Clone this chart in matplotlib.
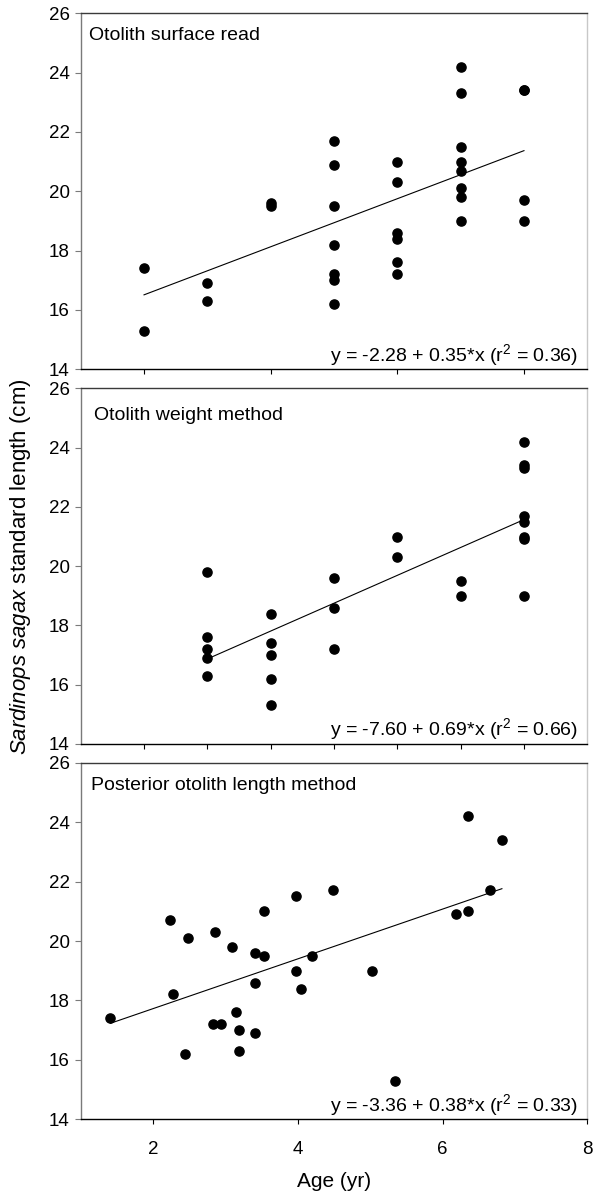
import matplotlib
matplotlib.use('Agg')
import matplotlib.pyplot as plt

plt.rcParams['font.family'] = ['Liberation Sans', 'DejaVu Sans']
plt.rcParams['mathtext.fontset'] = 'custom'
plt.rcParams['mathtext.rm'] = 'Liberation Sans'
plt.rcParams['mathtext.it'] = 'Liberation Sans:italic'
plt.rcParams['mathtext.bf'] = 'Liberation Sans:bold'

# ---------------- data ----------------
# Panel 1: otolith surface read
surf_age = [1, 1, 2, 2, 3, 3,
            4, 4, 4, 4, 4, 4, 4,
            5, 5, 5, 5, 5, 5,
            6, 6, 6, 6, 6, 6, 6, 6,
            7, 7, 7, 7]
surf_len = [17.4, 15.3, 16.9, 16.3, 19.6, 19.5,
            21.7, 20.9, 19.5, 18.2, 17.2, 17.0, 16.2,
            21.0, 20.3, 18.6, 18.4, 17.6, 17.2,
            24.2, 23.3, 21.5, 21.0, 20.7, 20.1, 19.8, 19.0,
            23.4, 23.4, 19.7, 19.0]
surf_fit_x = [1, 7]
surf_fit_y = [16.51, 21.37]

# Panel 2: otolith weight method
wt_age = [2, 2, 2, 2, 2,
          3, 3, 3, 3, 3,
          4, 4, 4,
          5, 5,
          6, 6,
          7, 7, 7, 7, 7, 7, 7, 7]
wt_len = [19.8, 17.6, 17.2, 16.9, 16.3,
          18.4, 17.4, 17.0, 16.2, 15.3,
          19.6, 18.6, 17.2,
          21.0, 20.3,
          19.5, 19.0,
          24.2, 23.4, 23.3, 21.7, 21.5, 21.0, 20.9, 19.0]
wt_fit_x = [2, 7]
wt_fit_y = [16.87, 21.57]

# Panel 3: posterior otolith length method
pol_age = [1.41, 2.24, 2.28, 2.48, 2.44, 2.85, 2.83, 2.94, 3.09, 3.14,
           3.19, 3.19, 3.41, 3.41, 3.41, 3.53, 3.53, 3.98, 3.98, 4.04,
           4.19, 4.49, 5.03, 5.34, 6.19, 6.35, 6.35, 6.65, 6.82]
pol_len = [17.4, 20.7, 18.2, 20.1, 16.2, 20.3, 17.2, 17.2, 19.8, 17.6,
           17.0, 16.3, 19.6, 18.6, 16.9, 21.0, 19.5, 21.5, 19.0, 18.4,
           19.5, 21.7, 19.0, 15.3, 20.9, 24.2, 21.0, 21.7, 23.4]
pol_fit_x = [1.41, 6.82]
pol_fit_y = [17.23, 21.76]

panel_titles = ['Otolith surface read', 'Otolith weight method',
                'Posterior otolith length method']
equations = [r'y = -2.28 + 0.35*x (r$^{2}$ = 0.36)',
             r'y = -7.60 + 0.69*x (r$^{2}$ = 0.66)',
             r'y = -3.36 + 0.38*x (r$^{2}$ = 0.33)']
y_ticks = [14, 16, 18, 20, 22, 24, 26]
x_ticks_p1 = [1, 3, 5, 7]
x_ticks_p2 = [1, 2, 3, 4, 5, 6, 7]
x_ticks_p3 = [2, 4, 6, 8]

# ---------------- figure ----------------
W, H = 593, 1191
fig = plt.figure(figsize=(W / 100, H / 100), dpi=100)

left = 80.7 / W
width = 506.6 / W
boxes = [(13.3, 369.3), (388.3, 744.0), (762.7, 1119.3)]
axes = []
for top, bot in boxes:
    ax = fig.add_axes([left, 1 - bot / H, width, (bot - top) / H])
    axes.append(ax)

datasets = [(surf_age, surf_len, surf_fit_x, surf_fit_y),
            (wt_age, wt_len, wt_fit_x, wt_fit_y),
            (pol_age, pol_len, pol_fit_x, pol_fit_y)]
title_pos = [(0.016, 0.937), (0.026, 0.923), (0.0195, 0.937)]

for i, ax in enumerate(axes):
    xs, ys, fx, fy = datasets[i]
    ax.plot(fx, fy, color='black', lw=0.8, zorder=2)
    ax.plot(xs, ys, 'o', color='black', ms=6.6, mec='black', zorder=3)
    ax.set_ylim(14, 26)
    ax.set_yticks(y_ticks)
    ax.spines['top'].set_color('#3a3a3a')
    ax.spines['left'].set_color('#7a7a7a')
    ax.spines['right'].set_color('#c8c8c8')
    ax.spines['bottom'].set_color('black')
    for s in ax.spines.values():
        s.set_linewidth(1.0)
    ax.tick_params(axis='y', direction='out', length=4, width=0.8,
                   color='#7a7a7a', labelsize=13.5, pad=4)
    ax.tick_params(axis='x', direction='out', length=3.5, width=0.8,
                   color='black', labelsize=13.5, pad=12)
    tx, ty = title_pos[i]
    ax.text(tx, ty, panel_titles[i], transform=ax.transAxes,
            fontsize=14, ha='left', va='center')
    ax.text(0.981, 0.024, equations[i], transform=ax.transAxes,
            fontsize=14, ha='right', va='baseline')

axes[0].set_xlim(0, 8)
axes[0].set_xticks(x_ticks_p1)
axes[0].set_xticklabels([])
axes[1].set_xlim(0, 8)
axes[1].set_xticks(x_ticks_p2)
axes[1].set_xticklabels([])
axes[2].set_xlim(1, 8)
axes[2].set_xticks(x_ticks_p3)
axes[2].set_xlabel('Age (yr)', fontsize=15, labelpad=10)

fig.text(21 / W, 1 - 567 / H,
         r'$\it{Sardinops\ sagax}$ standard length (cm)',
         rotation=90, ha='center', va='center', fontsize=16)

fig.savefig('out.png', dpi=100)
